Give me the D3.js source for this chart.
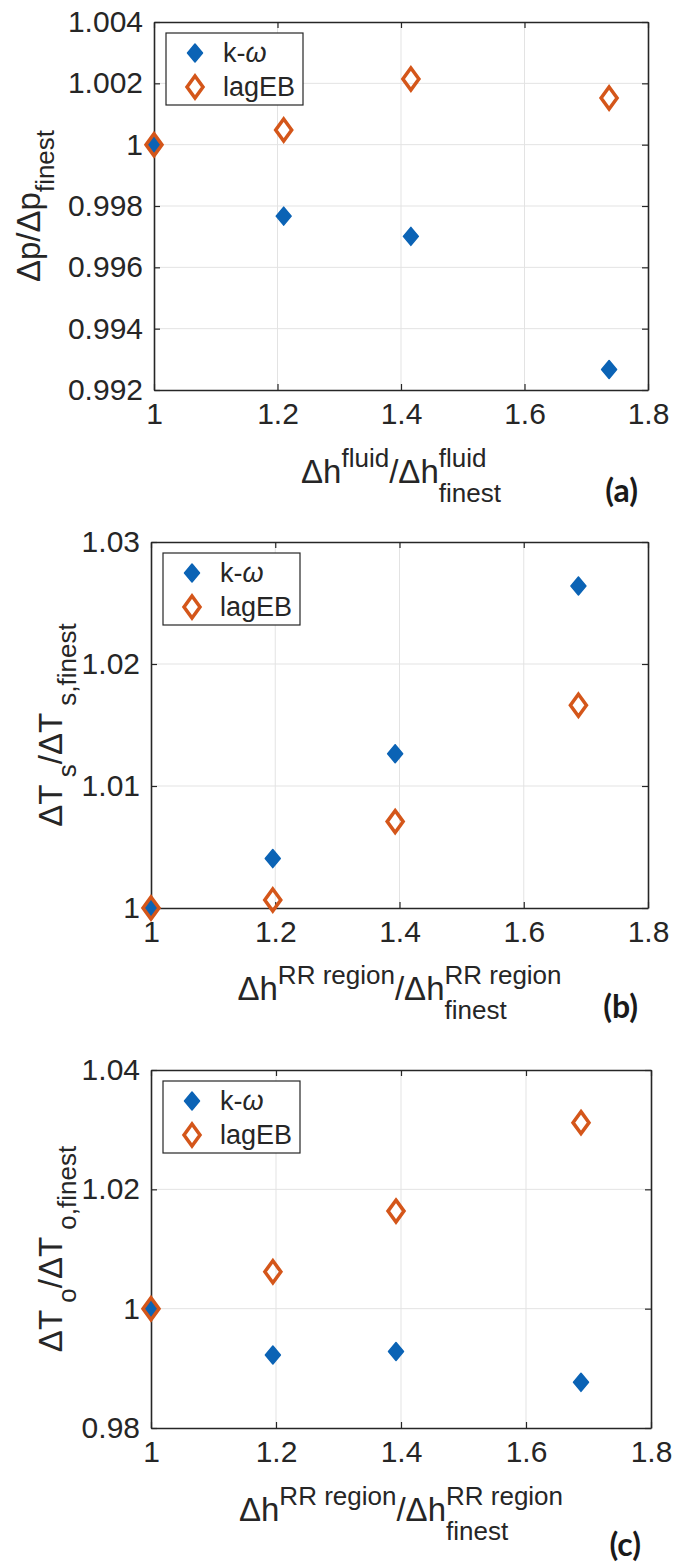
<!DOCTYPE html>
<html>
<head>
<meta charset="utf-8">
<script src="https://cdn.jsdelivr.net/npm/d3@7"></script>
<style>
  html, body { margin: 0; padding: 0; background: #ffffff; }
  svg { display: block; }
</style>
</head>
<body>
<svg id="chart" width="680" height="1566"></svg>
<script>
// ---------------- DATA ----------------
const seriesNames = ["k-ω", "lagEB"];
const xTickValues = [1, 1.2, 1.4, 1.6, 1.8];
const xTickLabels = ["1", "1.2", "1.4", "1.6", "1.8"];

// panel (a)
const aX   = [1, 1.21, 1.416, 1.737];
const aKw  = [1, 0.99767, 0.99701, 0.99267];
const aLag = [1, 1.00048, 1.00214, 1.00152];
const aYTickValues = [0.992, 0.994, 0.996, 0.998, 1, 1.002, 1.004];
const aYTickLabels = ["0.992", "0.994", "0.996", "0.998", "1", "1.002", "1.004"];

// panel (b)
const bX   = [1, 1.196, 1.393, 1.688];
const bKw  = [1, 1.00405, 1.01265, 1.0264];
const bLag = [1, 1.00065, 1.00708, 1.01662];
const bYTickValues = [1, 1.01, 1.02, 1.03];
const bYTickLabels = ["1", "1.01", "1.02", "1.03"];

// panel (c)
const cX   = [1, 1.195, 1.392, 1.688];
const cKw  = [1, 0.99224, 0.99282, 0.98765];
const cLag = [1, 1.00618, 1.01635, 1.03118];
const cYTickValues = [0.98, 1, 1.02, 1.04];
const cYTickLabels = ["0.98", "1", "1.02", "1.04"];

// ---------------- STYLE / LAYOUT ----------------
const FONT = "'Liberation Sans', Arial, Helvetica, sans-serif";
const BLUE = "#0b63b5";
const ORANGE = "#d4561a";
const AXIS = "#262626";
const GRID = "#e3e3e3";
const MAIN = 33, SCRIPT = 26;

const panels = [
  { tag: "(a)", x: aX, kw: aKw, lag: aLag, yv: aYTickValues, yl: aYTickLabels,
    left: 154, right: 648, top: 22, bottom: 390, yTitleX: 40,
    yTitle: [{t:"Δp/Δp", s:MAIN}, {t:"finest", s:SCRIPT, dy:14}],
    xTitle: [{t:"Δh", s:MAIN}, {t:"fluid", s:SCRIPT, dy:-16}, {t:"/Δh", s:MAIN},
             {t:"fluid", s:SCRIPT, dy:-16}, {t:"finest", s:SCRIPT, dy:19, stack:true}],
    xTitleDy: 93, tagDy: 112 },
  { tag: "(b)", x: bX, kw: bKw, lag: bLag, yv: bYTickValues, yl: bYTickLabels,
    left: 151, right: 648, top: 542, bottom: 908, yTitleX: 62,
    yTitle: [{t:"ΔT", s:MAIN}, {t:" s", s:SCRIPT, dy:14}, {t:"/ΔT", s:MAIN}, {t:" s,finest", s:SCRIPT, dy:14}],
    xTitle: [{t:"Δh", s:MAIN}, {t:"RR region", s:SCRIPT, dy:-16}, {t:"/Δh", s:MAIN},
             {t:"RR region", s:SCRIPT, dy:-16}, {t:"finest", s:SCRIPT, dy:19, stack:true}],
    xTitleDy: 92, tagDy: 110 },
  { tag: "(c)", x: cX, kw: cKw, lag: cLag, yv: cYTickValues, yl: cYTickLabels,
    left: 151, right: 651, top: 1070, bottom: 1428, yTitleX: 62,
    yTitle: [{t:"ΔT", s:MAIN}, {t:" o", s:SCRIPT, dy:14}, {t:"/ΔT", s:MAIN}, {t:" o,finest", s:SCRIPT, dy:14}],
    xTitle: [{t:"Δh", s:MAIN}, {t:"RR region", s:SCRIPT, dy:-16}, {t:"/Δh", s:MAIN},
             {t:"RR region", s:SCRIPT, dy:-16}, {t:"finest", s:SCRIPT, dy:19, stack:true}],
    xTitleDy: 93, tagDy: 128 }
];

const svg = d3.select("#chart");

// lay out rich text segments horizontally; returns group & width
function richText(parent, segs) {
  const g = parent.append("g");
  let cursor = 0, prevStart = 0;
  segs.forEach(sg => {
    const t = g.append("text")
      .attr("font-family", FONT).attr("font-size", sg.s)
      .attr("fill", AXIS).attr("y", sg.dy || 0)
      .attr("xml:space", "preserve").style("white-space", "pre")
      .text(sg.t);
    const w = t.node().getComputedTextLength();
    const sx = sg.stack ? prevStart : cursor;
    t.attr("x", sx);
    prevStart = sx;
    cursor = sg.stack ? Math.max(cursor, sx + w) : sx + w;
  });
  return { g, width: cursor };
}

function diamond(hw, hh) {
  return `M0,${-hh}L${hw},0L0,${hh}L${-hw},0Z`;
}

panels.forEach(p => {
  const x = d3.scaleLinear().domain([xTickValues[0], xTickValues[xTickValues.length - 1]]).range([p.left, p.right]);
  const y = d3.scaleLinear().domain([p.yv[0], p.yv[p.yv.length - 1]]).range([p.bottom, p.top]);
  const g = svg.append("g");

  // grid
  g.append("g").selectAll("line").data(xTickValues.slice(1, -1)).join("line")
    .attr("x1", d => x(d)).attr("x2", d => x(d)).attr("y1", p.top).attr("y2", p.bottom)
    .attr("stroke", GRID).attr("stroke-width", 1);
  g.append("g").selectAll("line").data(p.yv.slice(1, -1)).join("line")
    .attr("x1", p.left).attr("x2", p.right).attr("y1", d => y(d)).attr("y2", d => y(d))
    .attr("stroke", GRID).attr("stroke-width", 1);

  // axes via d3 axis (inner ticks)
  const xAxis = d3.axisBottom(x).tickValues(xTickValues).tickFormat((d, i) => xTickLabels[i])
    .tickSizeInner(-6).tickSizeOuter(0).tickPadding(13);
  const xa = g.append("g").attr("transform", `translate(0,${p.bottom})`).call(xAxis);
  const xTop = d3.axisTop(x).tickValues(xTickValues).tickFormat("").tickSizeInner(-6).tickSizeOuter(0);
  const xta = g.append("g").attr("transform", `translate(0,${p.top})`).call(xTop);
  const yAxis = d3.axisLeft(y).tickValues(p.yv).tickFormat((d, i) => p.yl[i])
    .tickSizeInner(-6).tickSizeOuter(0).tickPadding(11);
  const ya = g.append("g").attr("transform", `translate(${p.left},0)`).call(yAxis);
  const yRight = d3.axisRight(y).tickValues(p.yv).tickFormat("").tickSizeInner(-6).tickSizeOuter(0);
  const yra = g.append("g").attr("transform", `translate(${p.right},0)`).call(yRight);

  [xa, xta, ya, yra].forEach(a => {
    a.select(".domain").attr("stroke", AXIS).attr("stroke-width", 1.6);
    a.selectAll(".tick line").attr("stroke", AXIS).attr("stroke-width", 1.2);
    a.selectAll(".tick text").attr("font-family", FONT).attr("font-size", 30).attr("fill", AXIS);
  });
  xa.selectAll(".tick text").attr("dy", "0.71em");

  // data markers
  g.append("g").selectAll("path").data(p.x.map((v, i) => [v, p.kw[i]])).join("path")
    .attr("transform", d => `translate(${x(d[0])},${y(d[1])})`)
    .attr("d", diamond(7.5, 9)).attr("fill", BLUE).attr("stroke", BLUE).attr("stroke-width", 1.5)
    .attr("stroke-linejoin", "round");
  g.append("g").selectAll("path").data(p.x.map((v, i) => [v, p.lag[i]])).join("path")
    .attr("transform", d => `translate(${x(d[0])},${y(d[1])})`)
    .attr("d", diamond(8, 11)).attr("fill", "none").attr("stroke", ORANGE).attr("stroke-width", 3.5)
    .attr("stroke-linejoin", "miter");

  // legend
  const lg = g.append("g").attr("transform", `translate(${p.left + 12},${p.top + 11})`);
  lg.append("rect").attr("width", 137).attr("height", 72).attr("fill", "#fff")
    .attr("stroke", AXIS).attr("stroke-width", 1.2);
  const rowsY = [20, 54];
  lg.append("path").attr("transform", `translate(29,${rowsY[0]})`).attr("d", diamond(7.5, 9))
    .attr("fill", BLUE).attr("stroke", BLUE).attr("stroke-width", 1.5).attr("stroke-linejoin", "round");
  lg.append("path").attr("transform", `translate(29,${rowsY[1]})`).attr("d", diamond(8, 11))
    .attr("fill", "none").attr("stroke", ORANGE).attr("stroke-width", 3.5);
  const t1 = lg.append("text").attr("x", 57).attr("y", rowsY[0] + 9)
    .attr("font-family", FONT).attr("font-size", 27).attr("fill", AXIS);
  t1.append("tspan").text(seriesNames[0].slice(0, 2));
  t1.append("tspan").attr("font-style", "italic").text(seriesNames[0].slice(2));
  lg.append("text").attr("x", 57).attr("y", rowsY[1] + 9)
    .attr("font-family", FONT).attr("font-size", 27).attr("fill", AXIS).text(seriesNames[1]);

  // x title
  const cx = (p.left + p.right) / 2;
  const xt = richText(g, p.xTitle);
  xt.g.attr("transform", `translate(${cx - xt.width / 2},${p.bottom + p.xTitleDy})`);

  // y title (rotated)
  const cy = (p.top + p.bottom) / 2;
  const yg = g.append("g").attr("transform", `translate(${p.yTitleX},${cy}) rotate(-90)`);
  const yt = richText(yg, p.yTitle);
  yt.g.attr("transform", `translate(${-yt.width / 2},0)`);

  // panel tag
  g.append("text").attr("x", p.right - 10).attr("y", p.bottom + p.tagDy)
    .attr("text-anchor", "end").attr("font-family", "Lato, 'Open Sans', sans-serif")
    .attr("font-weight", "bold").attr("font-size", 32).attr("fill", "#1a1a1a").text(p.tag);
});
</script>
</body>
</html>
